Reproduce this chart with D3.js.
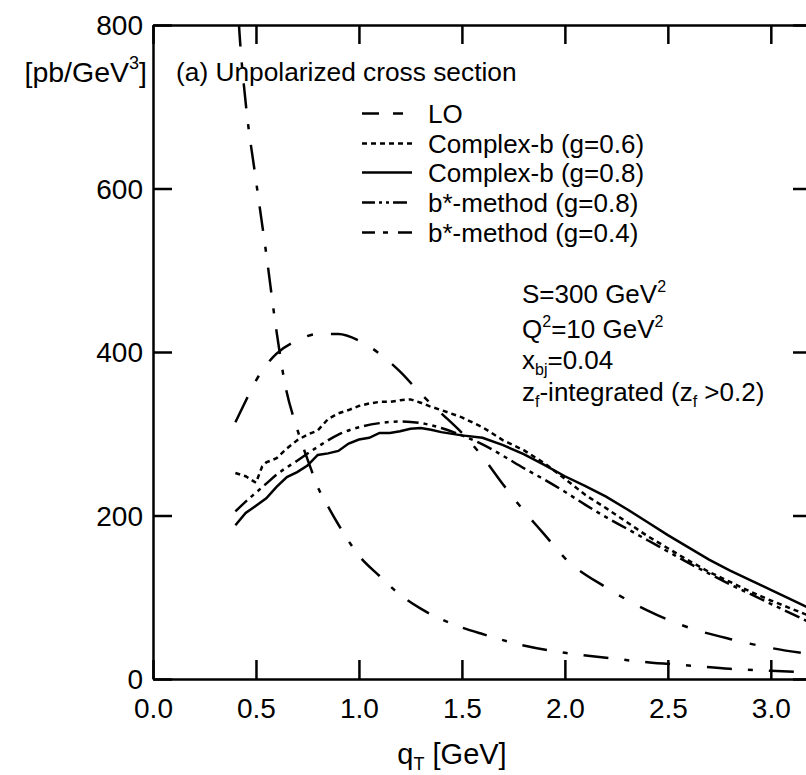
<!DOCTYPE html>
<html><head><meta charset="utf-8">
<script src="https://cdn.jsdelivr.net/npm/d3@7"></script>
<style>
body{margin:0;background:#fff;overflow:hidden}
svg{display:block;background:#fff}
text{font-family:"Liberation Sans",Arial,Helvetica,sans-serif;fill:#000}
</style>
</head><body>
<svg id="c" width="806" height="775"></svg>
<script>
// ---- tick labels ----
const xTicks = [0, 0.5, 1.0, 1.5, 2.0, 2.5, 3.0];
const yTicks = [0, 200, 400, 600, 800];

// ---- series (qT in GeV, cross section in pb/GeV^3) ----
const qtLO = [0.40,0.42,0.45,0.50,0.55,0.60,0.64,0.70,0.76,0.80,0.85,0.90,1.00,1.10,1.20,1.30,1.40,1.50,1.60,1.80,2.00,2.20,2.40,2.60,2.80,3.00,3.20];
const valLO = [880,790,705,610,520,425,362,306,262,235,211,189,151,126,103,86,73,63,55,41,32,26,20.5,16.5,12.5,10,8.2];

const qtCB06 = [0.40,0.45,0.50,0.53,0.55,0.60,0.65,0.70,0.75,0.80,0.85,0.90,0.95,1.00,1.05,1.10,1.15,1.20,1.25,1.30,1.35,1.40,1.50,1.60,1.70,1.80,1.90,2.00,2.10,2.20,2.30,2.40,2.50,2.60,2.70,2.80,2.90,3.00,3.10,3.20];
const valCB06 = [252,248,240,260,265,270,282,292,299,304,318,325,329,334,337,339,339,341,342,338,333,329,320,308,292,280,264,245,225,209,192,175,160,145,131,119,107,96,86,76];

const qtCB08 = [0.40,0.45,0.50,0.55,0.60,0.65,0.70,0.75,0.80,0.85,0.90,0.95,1.00,1.05,1.10,1.15,1.20,1.25,1.30,1.35,1.40,1.50,1.60,1.70,1.80,1.90,2.00,2.10,2.20,2.30,2.40,2.50,2.60,2.70,2.80,2.90,3.00,3.10,3.20];
const valCB08 = [188,203,212,221,235,247,253,261,274,276,279,288,293,295,301,301,303,306,307,305,302,298,295,286,275,262,248,236,223,208,192,176,161,146,133,121,109,97,85];

const qtBS08 = [0.40,0.45,0.50,0.55,0.60,0.70,0.80,0.90,1.00,1.10,1.20,1.30,1.40,1.50,1.60,1.70,1.80,1.90,2.00,2.10,2.20,2.30,2.40,2.50,2.60,2.70,2.80,2.90,3.00,3.10,3.20];
const valBS08 = [205,217,228,239,250,267,284,299,308,313,315,313,307,298,287,273,258,244,229,213,198,184,170,156,142,129,116,104,92,80,68];

const qtBS04 = [0.40,0.45,0.50,0.55,0.60,0.70,0.80,0.90,1.00,1.10,1.20,1.30,1.40,1.50,1.60,1.70,1.80,1.90,2.00,2.20,2.40,2.60,2.80,3.00,3.20];
const valBS04 = [314,340,365,384,398,414,422,422,414,398,376,349,325,301,272,238,206,177,148,112,84,63,49,38,30];

const legendLabels = ["LO", "Complex-b (g=0.6)", "Complex-b (g=0.8)", "b*-method (g=0.8)", "b*-method (g=0.4)"];

// ---- build ----
const series = [
  {qt: qtLO,   v: valLO,   dash: "25,16,5,16",        ldash: "17,14,10,30", smooth: true},
  {qt: qtCB06, v: valCB06, dash: "5,4",               ldash: "5,4",         smooth: false},
  {qt: qtCB08, v: valCB08, dash: null,                ldash: null,          smooth: false},
  {qt: qtBS08, v: valBS08, dash: "16,5,4,5,4,5",      ldash: "13,4,3,4,3,4,14", smooth: true},
  {qt: qtBS04, v: valBS04, dash: "28,18,6,18",        ldash: "13,8,5,10,14", smooth: true}
];

const svg = d3.select("#c");
const x = d3.scaleLinear().domain([0, 3.2]).range([153, 812]);
const y = d3.scaleLinear().domain([0, 800]).range([679, 25]);
const SW = 2.5;

svg.append("defs").append("clipPath").attr("id","clip")
  .append("rect").attr("x", x(0)).attr("y", y(800)).attr("width", x(3.2)-x(0)).attr("height", y(0)-y(800));

// curves
const gc = svg.append("g").attr("clip-path","url(#clip)");
series.forEach(s => {
  const pts = s.qt.map((q,i)=>[q, s.v[i]]);
  const line = d3.line().x(d=>x(d[0])).y(d=>y(d[1]))
    .curve(s.smooth ? d3.curveMonotoneX : d3.curveLinear);
  gc.append("path").attr("d", line(pts)).attr("fill","none")
    .attr("stroke","#000").attr("stroke-width", SW)
    .attr("stroke-dasharray", s.dash);
});

// axes
const fmt = d3.format(".1f");
const gB = svg.append("g").attr("transform",`translate(0,${y(0)})`)
  .call(d3.axisBottom(x).tickValues(xTicks).tickSize(-19).tickSizeOuter(0).tickPadding(19).tickFormat(fmt));
const gT = svg.append("g").attr("transform",`translate(0,${y(800)})`)
  .call(d3.axisTop(x).tickValues(xTicks).tickSize(-19).tickSizeOuter(0).tickFormat(""));
const gL = svg.append("g").attr("transform",`translate(${x(0)},0)`)
  .call(d3.axisLeft(y).tickValues(yTicks).tickSize(-19).tickSizeOuter(0).tickPadding(10).tickFormat(d3.format("d")));
const gR = svg.append("g").attr("transform",`translate(${x(3.2)},0)`)
  .call(d3.axisRight(y).tickValues(yTicks).tickSize(-19).tickSizeOuter(0).tickFormat(""));
[gB,gT,gL,gR].forEach(g=>{
  g.selectAll("path.domain").attr("stroke","#000").attr("stroke-width",SW);
  g.selectAll(".tick line").attr("stroke","#000").attr("stroke-width",SW);
  g.selectAll("text").attr("font-family",null).attr("font-size",null)
    .style("font-size","28px").style("fill","#000");
});
gB.selectAll(".tick text").attr("dy","0.71em");
gL.selectAll(".tick text").attr("dy","0.34em");

// axis titles
const xt = svg.append("text").attr("x", 452).attr("y", 764).attr("text-anchor","middle").style("font-size","29px");
xt.append("tspan").text("q");
xt.append("tspan").attr("dy", 6).style("font-size","18px").text("T");
xt.append("tspan").attr("dy", -6).text(" [GeV]");

const yt = svg.append("text").attr("x", 147).attr("y", 82).attr("text-anchor","end").style("font-size","28.5px");
yt.append("tspan").text("[pb/GeV");
yt.append("tspan").attr("dy", -13).style("font-size","18px").text("3");
yt.append("tspan").attr("dy", 13).text("]");

svg.append("text").attr("x", 176).attr("y", 81).style("font-size","26.3px").text("(a) Unpolarized cross section");

// legend
const legBase = [123, 153, 182, 212, 242];
legendLabels.forEach((lab,i)=>{
  const by = legBase[i];
  svg.append("line").attr("x1",362).attr("x2",412).attr("y1",by-9.5).attr("y2",by-9.5)
    .attr("stroke","#000").attr("stroke-width",SW).attr("stroke-dasharray", series[i].ldash);
  svg.append("text").attr("x",428).attr("y",by).style("font-size","26px").text(lab);
});

// annotation block
const ax = 522;
const t1 = svg.append("text").attr("x",ax).attr("y",303).style("font-size","26px");
t1.append("tspan").text("S=300 GeV");
t1.append("tspan").attr("dy",-11).style("font-size","16px").text("2");

const t2 = svg.append("text").attr("x",ax).attr("y",338).style("font-size","26px");
t2.append("tspan").text("Q");
t2.append("tspan").attr("dy",-11).style("font-size","16px").text("2");
t2.append("tspan").attr("dy",11).text("=10 GeV");
t2.append("tspan").attr("dy",-11).style("font-size","16px").text("2");

const t3 = svg.append("text").attr("x",ax).attr("y",369).style("font-size","26px");
t3.append("tspan").text("x");
t3.append("tspan").attr("dy",6).style("font-size","16px").text("bj");
t3.append("tspan").attr("dy",-6).text("=0.04");

const t4 = svg.append("text").attr("x",ax).attr("y",401).style("font-size","26px");
t4.append("tspan").text("z");
t4.append("tspan").attr("dy",6).style("font-size","16px").text("f");
t4.append("tspan").attr("dy",-6).text("-integrated (z");
t4.append("tspan").attr("dy",6).style("font-size","16px").text("f");
t4.append("tspan").attr("dy",-6).text(" >0.2)");
</script>
</body></html>
